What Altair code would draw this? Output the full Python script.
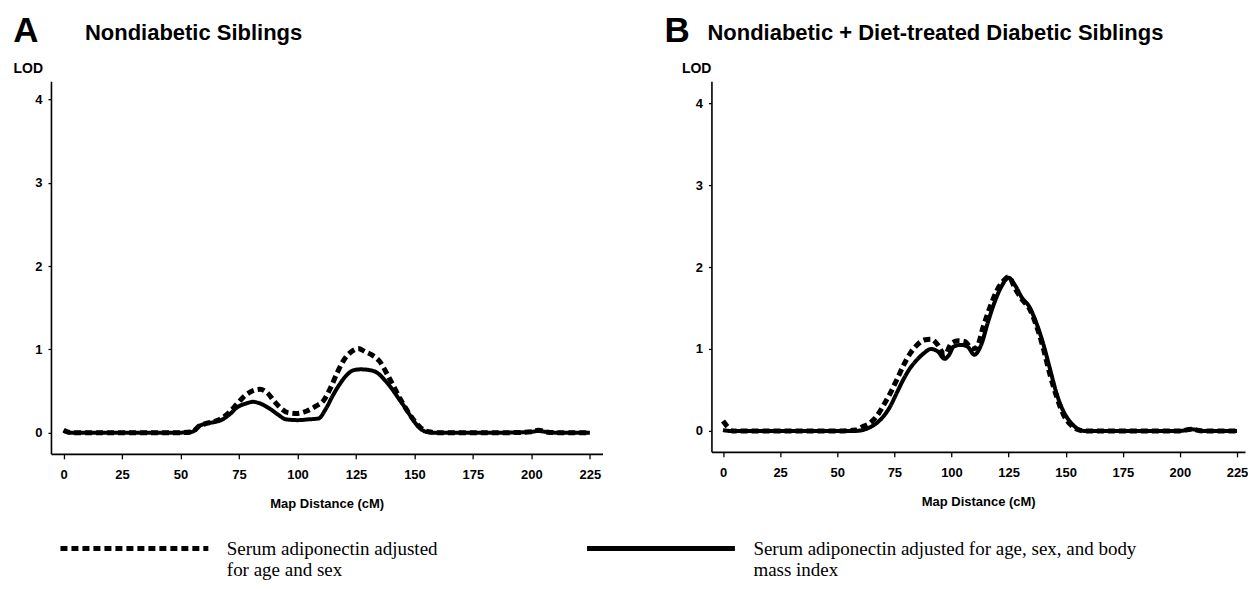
import altair as alt
import pandas as pd

SERIES = [
    "Serum adiponectin adjusted\nfor age and sex",
    "Serum adiponectin adjusted for age, sex, and body\nmass index",
]
X_TICKS = [0, 25, 50, 75, 100, 125, 150, 175, 200, 225]
Y_TICKS = [0, 1, 2, 3, 4]

# Panel A - Nondiabetic Siblings
A_dash_x = [0, 3, 10, 20, 30, 40, 50, 55, 58, 61, 65, 68, 71, 74, 77, 80, 84, 87, 90, 93, 96, 100,
            104, 108, 111, 114, 117, 120, 123, 126, 129, 132, 135, 138, 141, 144, 147, 150, 153, 156,
            160, 170, 180, 190, 200, 203, 206, 210, 225]
A_dash_y = [0.03, 0.0, 0.0, 0.0, 0.0, 0.0, 0.0, 0.01, 0.08, 0.11, 0.14, 0.18, 0.25, 0.34, 0.43, 0.49,
            0.52, 0.48, 0.38, 0.29, 0.24, 0.23, 0.26, 0.32, 0.38, 0.53, 0.72, 0.88, 0.97, 1.01, 0.97,
            0.93, 0.86, 0.72, 0.56, 0.40, 0.26, 0.14, 0.05, 0.01, 0.0, 0.0, 0.0, 0.0, 0.01, 0.03, 0.01,
            0.0, 0.0]
A_solid_x = [0, 3, 10, 20, 30, 40, 50, 55, 58, 61, 65, 68, 71, 74, 78, 81, 84, 88, 92, 95, 100, 105,
             109, 112, 115, 118, 121, 124, 127, 131, 134, 137, 140, 143, 146, 149, 152, 155, 158,
             170, 180, 190, 200, 203, 206, 210, 225]
A_solid_y = [0.02, 0.0, 0.0, 0.0, 0.0, 0.0, 0.0, 0.01, 0.08, 0.11, 0.13, 0.16, 0.22, 0.30, 0.35,
             0.37, 0.35, 0.29, 0.21, 0.16, 0.15, 0.16, 0.17, 0.28, 0.44, 0.58, 0.69, 0.75, 0.76, 0.75,
             0.72, 0.64, 0.54, 0.42, 0.30, 0.17, 0.06, 0.01, 0.0, 0.0, 0.0, 0.0, 0.01, 0.02, 0.01,
             0.0, 0.0]

# Panel B - Nondiabetic + Diet-treated Diabetic Siblings
B_dash_x = [0, 2, 4, 10, 20, 30, 40, 50, 58, 61, 64, 67, 70, 73, 76, 79, 82, 85, 88, 91, 94, 97,
            100, 103, 106, 109, 111, 114, 117, 120, 123, 125, 128, 131, 134, 137, 140, 143, 146, 149,
            152, 155, 158, 170, 180, 190, 200, 205, 210, 225]
B_dash_y = [0.12, 0.05, 0.0, 0.0, 0.0, 0.0, 0.0, 0.0, 0.01, 0.05, 0.09, 0.17, 0.30, 0.45, 0.62,
            0.80, 0.95, 1.05, 1.11, 1.12, 1.05, 0.93, 1.07, 1.10, 1.09, 1.00, 1.02, 1.28, 1.52, 1.72,
            1.84, 1.88, 1.73, 1.60, 1.50, 1.30, 1.03, 0.70, 0.42, 0.20, 0.08, 0.02, 0.0, 0.0, 0.0,
            0.0, 0.0, 0.02, 0.0, 0.0]
B_solid_x = [0, 3, 10, 20, 30, 40, 50, 58, 61, 64, 67, 70, 73, 76, 79, 82, 85, 88, 91, 94, 97, 99,
             101, 104, 107, 110, 113, 116, 119, 122, 125, 128, 131, 134, 137, 140, 143, 146, 149,
             152, 155, 158, 170, 180, 190, 200, 205, 210, 225]
B_solid_y = [0.01, 0.0, 0.0, 0.0, 0.0, 0.0, 0.0, 0.0, 0.01, 0.04, 0.09, 0.17, 0.29, 0.46, 0.63,
             0.77, 0.87, 0.95, 1.00, 0.97, 0.88, 0.93, 1.03, 1.05, 1.03, 0.93, 1.05, 1.33, 1.58,
             1.77, 1.87, 1.77, 1.62, 1.52, 1.33, 1.08, 0.77, 0.46, 0.24, 0.11, 0.03, 0.0, 0.0, 0.0,
             0.0, 0.0, 0.02, 0.0, 0.0]

SANS = "Liberation Sans"
SERIF = "Liberation Serif"


def frame(xs, ys, series):
    return pd.DataFrame({"cM": xs, "LOD": ys, "series": series})


def panel(dash_df, solid_df, xdom, ydom, w, h, letter, title, letter_dx, title_dx, lod_dx,
          with_legend):
    x = alt.X("cM:Q",
              scale=alt.Scale(domain=xdom, nice=False, zero=False),
              axis=alt.Axis(values=X_TICKS, title="Map Distance (cM)", tickSize=5,
                            labelPadding=10, titlePadding=16))
    y = alt.Y("LOD:Q",
              scale=alt.Scale(domain=ydom, nice=False, zero=False),
              axis=alt.Axis(values=Y_TICKS, title="LOD", titleAngle=0, titleAlign="left",
                            titleBaseline="alphabetic", titleX=lod_dx, titleY=-9,
                            tickSize=3, labelPadding=6, titleFontSize=14))
    sd_kwargs = dict(scale=alt.Scale(domain=SERIES, range=[[7, 4], [1, 0]]))
    if with_legend:
        sd_kwargs["legend"] = alt.Legend(
            orient="none", legendX=7, legendY=391, direction="horizontal",
            title=None, symbolType="stroke", symbolSize=21904,
            symbolStrokeWidth=5, symbolStrokeColor="black",
            labelFont=SERIF, labelFontSize=19, labelColor="black",
            labelFontWeight="normal", labelLimit=700, labelOffset=16,
            columnPadding=138, labelExpr="split(datum.label, '\\n')")
    sd = alt.StrokeDash("series:N", **sd_kwargs)

    dashed = alt.Chart(dash_df).mark_line(
        color="black", strokeWidth=5, interpolate="monotone", strokeCap="butt"
    ).encode(x=x, y=y, strokeDash=sd)
    solid = alt.Chart(solid_df).mark_line(
        color="black", strokeWidth=4, interpolate="monotone"
    ).encode(x=x, y=y, strokeDash=sd)

    lt = alt.Chart(pd.DataFrame({"t": [letter]})).mark_text(
        font=SANS, fontWeight="bold", fontSize=35, align="left", baseline="alphabetic",
        color="black"
    ).encode(x=alt.value(letter_dx), y=alt.value(-39), text="t:N")
    tt = alt.Chart(pd.DataFrame({"t": [title]})).mark_text(
        font=SANS, fontWeight="bold", fontSize=22, align="left", baseline="alphabetic",
        color="black"
    ).encode(x=alt.value(title_dx), y=alt.value(-41), text="t:N")
    return alt.layer(dashed, solid, lt, tt).properties(width=w, height=h)


pA = panel(frame(A_dash_x, A_dash_y, SERIES[0]), frame(A_solid_x, A_solid_y, SERIES[1]),
           [-5.4, 230.4], [-0.255, 4.22], 552, 373, "A", "Nondiabetic Siblings",
           -37.7, 34, -38, True)
pB = panel(frame(B_dash_x, B_dash_y, SERIES[0]), frame(B_solid_x, B_solid_y, SERIES[1]),
           [-5.07, 228.5], [-0.256, 4.27], 534, 371, "B",
           "Nondiabetic + Diet-treated Diabetic Siblings", -47, -4, -30, False)

chart = alt.hconcat(pA, pB, spacing=109, bounds="flush").properties(
    padding={"left": 5, "top": 6, "right": 0, "bottom": 0}
).configure_view(stroke=None).configure_axis(
    grid=False, domainColor="black", domainWidth=1.6, tickColor="black", tickWidth=1.3,
    labelColor="black", labelFont=SANS, labelFontWeight="bold", labelFontSize=13,
    titleColor="black", titleFont=SANS, titleFontWeight="bold", titleFontSize=13
)

chart.save("out.html", embed_options={"renderer": "svg", "actions": False})
